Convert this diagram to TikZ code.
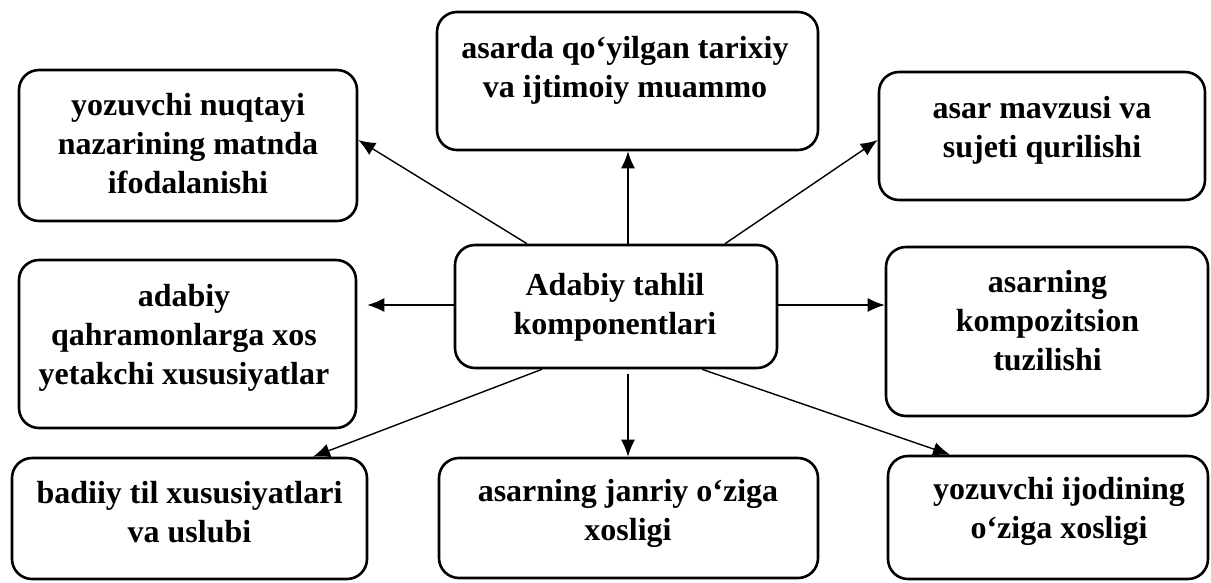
\documentclass[tikz,border=0pt]{standalone}
\usepackage{fontspec}
\setmainfont{Liberation Serif}
\usetikzlibrary{arrows.meta,calc}
\begin{document}
\begin{tikzpicture}[x=1pt,y=-1pt,
  box/.style={draw,line width=2.6pt,rounded corners=20pt,minimum width=#1,inner sep=0pt},
  lbl/.style={font=\bfseries\fontsize{32}{39}\selectfont,align=center,anchor=base,inner sep=0pt},
  arr/.style={line width=1.4pt,-{Latex[length=17pt,width=14pt]}}]
\useasboundingbox (0,0) rectangle (1211,582);
% boxes
\node[box=338pt,minimum height=151pt] (TL) at (188,145.5) {};
\node[box=337pt,minimum height=168pt] (ML) at (187.5,344) {};
\node[box=355pt,minimum height=121pt] (BL) at (189.5,518.5) {};
\node[box=381pt,minimum height=138pt] (TC) at (627.5,81) {};
\node[box=322pt,minimum height=123pt] (C) at (616,306.5) {};
\node[box=326pt,minimum height=128pt] (TR) at (1042,136) {};
\node[box=322pt,minimum height=169pt] (MR) at (1047,331.5) {};
\node[box=379pt,minimum height=120pt] (BC) at (628.5,518) {};
\node[box=320pt,minimum height=123pt] (BR) at (1048,517.5) {};
% texts (anchored at the baseline of the last line)
\node[lbl] (tTL) at (188,193) {yozuvchi nuqtayi\\nazarining matnda\\ifodalanishi};
\node[lbl] (tML) at (184,384) {adabiy\\qahramonlarga xos\\yetakchi xususiyatlar};
\node[lbl] (tBL) at (189.5,542) {badiiy til xususiyatlari\\va uslubi};
\node[lbl] (tTC) at (625,97) {asarda qo‘yilgan tarixiy\\va ijtimoiy muammo};
\node[lbl] (tC) at (615,334) {Adabiy tahlil\\komponentlari};
\node[lbl] (tTR) at (1042,157) {asar mavzusi va\\sujeti qurilishi};
\node[lbl] (tMR) at (1047.5,370) {asarning\\kompozitsion\\tuzilishi};
\node[lbl] (tBC) at (628,540) {asarning janriy o‘ziga\\xosligi};
\node[lbl] (tBR) at (1059,538) {yozuvchi ijodining\\o‘ziga xosligi};
% connectors
\draw[arr] ([xshift=-89pt]C.north) -- ([yshift=5.5pt]TL.east);
\draw[arr] ([xshift=12pt]C.north) -- ([xshift=0.5pt]TC.south);
\draw[arr] ([xshift=109pt]C.north) -- ([yshift=-4pt]TR.west);
\draw[arr,shorten >=10pt] ([yshift=1.5pt]C.west) -- ([yshift=1.5pt]C.west -| ML.east);
\draw[arr] ([yshift=1.5pt]C.east) -- ([yshift=1.5pt]C.east -| MR.west);
\draw[arr] ([xshift=-74pt]C.south) -- ([xshift=123.5pt]BL.north);
\draw[arr,shorten <=5pt] ([xshift=12pt]C.south) -- ([xshift=-0.5pt]BC.north);
\draw[arr] ([xshift=86pt]C.south) -- ([xshift=-98pt]BR.north);
\end{tikzpicture}
\end{document}
